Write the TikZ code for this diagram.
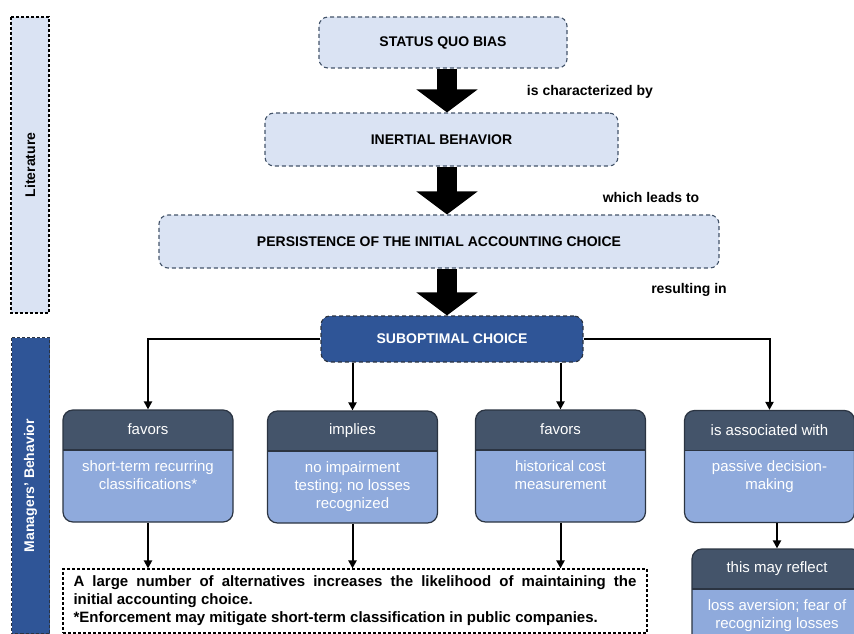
\documentclass[tikz,border=0pt]{standalone}
\usepackage{fontspec}
\setmainfont{Liberation Sans}
\usepackage{tikz}
\usetikzlibrary{arrows.meta}
\definecolor{boxfill}{HTML}{DAE3F3}
\definecolor{boxline}{HTML}{44546A}
\definecolor{choiceblue}{HTML}{2F5597}
\definecolor{headgray}{HTML}{44546A}
\definecolor{bodyblue}{HTML}{8FAADC}
\definecolor{edgegray}{HTML}{2B3442}
\tikzstyle{mainbox}=[draw=boxline,fill=boxfill,dash pattern=on 4pt off 3pt,line width=1.1pt,rounded corners=9pt,font=\fontsize{14}{16}\selectfont\bfseries]
\tikzstyle{choicebox}=[mainbox,draw=edgegray,fill=choiceblue,text=white]
\tikzstyle{sidebar}=[draw=black,fill=boxfill,dash pattern=on 3pt off 2pt,line width=1.1pt,rotate=90,minimum width=296pt,minimum height=38pt,font=\fontsize{14}{16}\selectfont\bfseries]
\tikzstyle{linklabel}=[font=\fontsize{14}{16}\selectfont\bfseries]
\tikzstyle{branch}=[draw=edgegray,fill=bodyblue,line width=1.2pt,rounded corners=10pt,minimum width=170pt,minimum height=112pt,
  path picture={\fill[headgray,sharp corners] (path picture bounding box.north west) rectangle ([yshift=-40pt]path picture bounding box.north east);
  \draw[edgegray,line width=1.2pt,sharp corners] ([yshift=-40pt]path picture bounding box.north west) -- ([yshift=-40pt]path picture bounding box.north east);}]
\tikzstyle{headtext}=[text=white,font=\fontsize{15}{17}\selectfont]
\tikzstyle{bodytext}=[text=white,align=center,anchor=north,inner sep=0pt,font=\fontsize{15}{18}\selectfont]
\tikzstyle{notebox}=[draw=black,fill=white,dash pattern=on 3pt off 2pt,line width=1.1pt,minimum width=584pt,minimum height=64pt,
  text width=563pt,align=justify,font=\fontsize{15}{18}\selectfont\bfseries]
\tikzstyle{flow}=[line width=2pt,-{Triangle[length=8pt,width=8pt]}]
\tikzstyle{bigarrow}=[line width=20pt,-{Triangle[length=23pt,width=60pt]}]

\begin{document}
\begin{tikzpicture}[x=1pt,y=-1pt]
  \useasboundingbox (0,0) rectangle (854,634);
  \clip (0,0) rectangle (854,634);

  % side bars
  \node[sidebar] (lit) at (30,165) {Literature};
  \node[sidebar,fill=choiceblue,draw=edgegray,text=white] (mgr) at (30.5,485.5) {Managers’ Behavior};

  % literature chain
  \node[mainbox,minimum width=248pt,minimum height=51pt] (sqb) at (443,42.5) {STATUS QUO BIAS};
  \node[mainbox,minimum width=353pt,minimum height=53pt] (inb) at (441.5,139.5) {INERTIAL BEHAVIOR};
  \node[mainbox,minimum width=560pt,minimum height=53pt] (pic) at (439,241.5) {PERSISTENCE OF THE INITIAL ACCOUNTING CHOICE};
  \node[choicebox,minimum width=262pt,minimum height=46pt] (soc) at (452,339) {SUBOPTIMAL CHOICE};

  \coordinate (ax) at (447,0);
  \draw[bigarrow] (sqb.south -| ax) -- (inb.north -| ax);
  \draw[bigarrow] (inb.south -| ax) -- (pic.north -| ax);
  \draw[bigarrow] (pic.south -| ax) -- (soc.north -| ax);

  \node[linklabel] (l1) at (590,92) {is characterized by};
  \node[linklabel] (l2) at (651,197) {which leads to};
  \node[linklabel] (l3) at (689,290) {resulting in};

  % managers' behavior
  \foreach \i/\x/\y/\hd/\bd in {1/148/466/favors/{short-term recurring\\classifications*},
      2/352.5/467/implies/{no impairment\\testing; no losses\\recognized},
      3/560.5/466/favors/{historical cost\\measurement},
      4/769.5/466.5/is associated with/{passive decision-\\making},
      5/777/605/this may reflect/{loss aversion; fear of\\recognizing losses}}{
    \node[branch] (b\i) at (\x,\y) {};
    \node[headtext] (h\i) at ([yshift=-20pt]b\i.north) {\hd};
    \node[bodytext] (t\i) at ([yshift=-51pt]b\i.north) {\bd};
  }

  \node[notebox] (nt) at (355,601)
    {A large number of alternatives increases the likelihood of maintaining the\linebreak initial accounting choice.\par
     *Enforcement may mitigate short-term classification in public companies.};

  \draw[flow] (soc.west) -| (b1.north);
  \draw[flow] (soc.south -| b2.north) -- (b2.north);
  \draw[flow] (soc.south -| b3.north) -- (b3.north);
  \draw[flow] (soc.east) -| (b4.north);
  \foreach \i in {1,2,3}{
    \draw[flow] (b\i.south) -- (b\i.south |- nt.north);
  }
  \draw[flow] (b4.south -| b5.north) -- (b5.north);
\end{tikzpicture}
\end{document}
